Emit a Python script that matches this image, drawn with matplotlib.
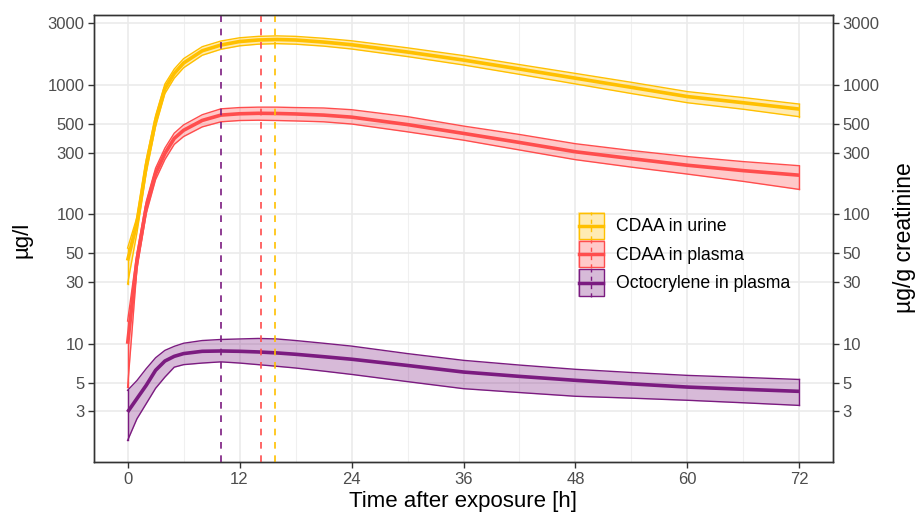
#!/usr/bin/env python3
import matplotlib
matplotlib.use('Agg')
import matplotlib.pyplot as plt
from matplotlib.legend_handler import HandlerBase
from matplotlib.patches import Rectangle
from matplotlib.lines import Line2D

plt.rcParams['font.family'] = ['Liberation Sans', 'DejaVu Sans']

# model time grid (hours)
time_h = [0, 1, 2, 3, 4, 5, 6, 8, 10, 12, 14, 16, 18, 21, 24, 30, 36, 42, 48, 54, 60, 66, 72]

urine_med = [44, 86, 240, 530, 940, 1230, 1480, 1840, 2040, 2170, 2230, 2250, 2230, 2150, 2050,
             1800, 1560, 1330, 1130, 960, 815, 730, 652]
urine_hi = [55, 95, 265, 580, 1020, 1330, 1600, 1980, 2190, 2320, 2380, 2400, 2380, 2300, 2200,
            1940, 1690, 1440, 1230, 1050, 890, 800, 713]
urine_lo = [29, 72, 210, 480, 860, 1130, 1360, 1700, 1890, 2010, 2070, 2090, 2070, 2000, 1900,
            1660, 1430, 1210, 1020, 860, 730, 650, 569]

plasma_med = [10, 44, 114, 207, 296, 387, 447, 533, 586, 600, 605, 603, 598, 586, 565,
              495, 423, 360, 305, 270, 240, 218, 201]
plasma_hi = [15, 50, 126, 228, 326, 425, 492, 590, 655, 670, 675, 675, 670, 665, 645,
             570, 482, 415, 352, 312, 280, 256, 238]
plasma_lo = [4.6, 38, 102, 186, 266, 348, 400, 475, 520, 532, 535, 532, 528, 520, 500,
             435, 375, 315, 265, 232, 205, 180, 156]

octo_med = [2.97, 3.77, 4.78, 6.24, 7.36, 8.0, 8.4, 8.75, 8.8, 8.75, 8.65, 8.5, 8.3, 7.95, 7.6,
            6.8, 6.05, 5.6, 5.22, 4.9, 4.63, 4.45, 4.29]
octo_hi = [4.37, 5.2, 6.43, 7.8, 8.9, 9.56, 10.1, 10.6, 10.8, 10.9, 11.0, 10.9, 10.6, 10.1, 9.6,
           8.4, 7.45, 6.85, 6.35, 6.0, 5.7, 5.5, 5.3]
octo_lo = [1.79, 2.63, 3.45, 4.53, 5.53, 6.6, 6.9, 7.1, 7.25, 7.1, 6.9, 6.7, 6.5, 6.15, 5.8,
           5.1, 4.5, 4.2, 3.93, 3.8, 3.66, 3.5, 3.34]

# time of maximum concentration per series
tmax = {'Octocrylene in plasma': 10.0, 'CDAA in plasma': 14.3, 'CDAA in urine': 15.8}

y_ticks = [3, 5, 10, 30, 50, 100, 300, 500, 1000, 3000]
x_ticks = [0, 12, 24, 36, 48, 60, 72]

series = [
    ('CDAA in urine', urine_med, urine_lo, urine_hi, '#FFC000'),
    ('CDAA in plasma', plasma_med, plasma_lo, plasma_hi, '#FF4D4D'),
    ('Octocrylene in plasma', octo_med, octo_lo, octo_hi, '#7B1B80'),
]

KEY_H = 20.0  # legend key height in points (~28 px)


class KeyHandler(HandlerBase):
    def __init__(self, color):
        super().__init__()
        self.color = color

    def create_artists(self, legend, orig_handle, xdescent, ydescent, width, height,
                       fontsize, trans):
        x0 = -xdescent
        yc = (height - 2 * ydescent) / 2
        y0 = yc - KEY_H / 2
        rect = Rectangle((x0, y0), width, KEY_H, facecolor=self.color,
                         alpha=0.3, edgecolor='none', transform=trans)
        edge = Rectangle((x0 + 0.5, y0 + 0.5), width - 1, KEY_H - 1, facecolor='none',
                         edgecolor=self.color, lw=1.0, transform=trans)
        hline = Line2D([x0 + 1, x0 + width - 1], [yc, yc],
                       color=self.color, lw=2.5, transform=trans)
        vline = Line2D([x0 + width / 2] * 2, [y0, y0 + KEY_H],
                       color=self.color, lw=1.0, ls=(0, (3, 3)), transform=trans)
        return [rect, edge, hline, vline]


fig = plt.figure(figsize=(9.17, 5.14), dpi=100)
ax = fig.add_axes([94 / 917, 1 - 462 / 514, 739 / 917, 447 / 514])

ax.set_yscale('log')
ax.set_xlim(-3.6, 75.6)
ax.set_ylim(1.22, 3480)

for x in [6, 18, 30, 42, 54, 66]:
    ax.axvline(x, color='#F0F0F0', lw=0.8, zorder=0)
for x in x_ticks:
    ax.axvline(x, color='#EBEBEB', lw=1.2, zorder=0)
for y in y_ticks:
    ax.axhline(y, color='#EBEBEB', lw=1.2, zorder=0)

handles = []
handler_map = {}
for name, med, lo, hi, col in series:
    ax.fill_between(time_h, lo, hi, color=col, alpha=0.3, lw=0, zorder=2)
    ax.plot(time_h, lo, color=col, lw=1.0, zorder=3)
    ax.plot(time_h, hi, color=col, lw=1.0, zorder=3)
    ax.plot([time_h[0], time_h[0]], [lo[0], hi[0]], color=col, lw=1.0, zorder=3)
    ax.plot([time_h[-1], time_h[-1]], [lo[-1], hi[-1]], color=col, lw=1.0, zorder=3)
    ax.plot(time_h, med, color=col, lw=2.6, zorder=4, solid_capstyle='butt')
    ax.axvline(tmax[name], color=col, lw=1.2, ls=(0, (4, 4)), zorder=5)
    h = Rectangle((0, 0), 1, 1, label=name)
    handles.append(h)
    handler_map[h] = KeyHandler(col)

ax.set_xticks(x_ticks)
ax.set_xticklabels([str(x) for x in x_ticks])
ax.set_yticks(y_ticks)
ax.set_yticklabels([str(y) for y in y_ticks])
ax.minorticks_off()
ax.tick_params(axis='both', length=4, width=1, color='#333333', labelcolor='#4D4D4D',
               labelsize=12, pad=3)

ax_r = ax.twinx()
ax_r.set_yscale('log')
ax_r.set_ylim(ax.get_ylim())
ax_r.set_yticks(y_ticks)
ax_r.set_yticklabels([str(y) for y in y_ticks])
ax_r.minorticks_off()
ax_r.tick_params(axis='y', length=4, width=1, color='#333333', labelcolor='#4D4D4D',
                 labelsize=12, pad=3)

for a in (ax, ax_r):
    for s in a.spines.values():
        s.set_color('#333333')
        s.set_linewidth(1.0)

fig.text(463 / 917, 1 - 502 / 514, 'Time after exposure [h]', ha='center', va='center',
         fontsize=16)
fig.text(22 / 917, 1 - 240 / 514, 'µg/l', ha='center', va='center', rotation=90, fontsize=16)
fig.text(905 / 917, 1 - 238 / 514, 'µg/g creatinine', ha='center', va='center', rotation=90,
         fontsize=16.5)

ax.legend(handles=handles, handler_map=handler_map, loc='upper left',
          bbox_to_anchor=(0.655, 0.56), frameon=False, fontsize=12.7, borderpad=0,
          borderaxespad=0, labelspacing=0.0, handlelength=1.5, handleheight=2.1,
          handletextpad=0.65)

fig.savefig('out.png', dpi=100)
